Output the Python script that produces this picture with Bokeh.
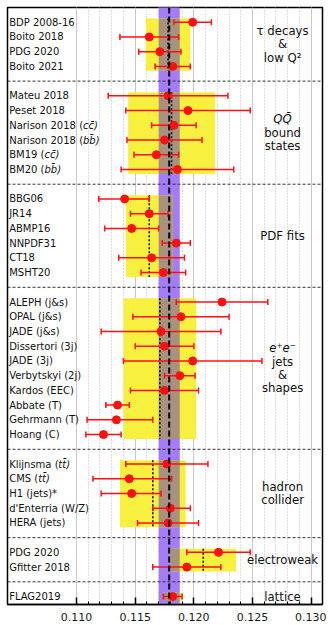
import numpy as np
from bokeh.plotting import figure
from bokeh.models import Range1d, FixedTicker, Span, NumeralTickFormatter
from bokeh.core.properties import value
from bokeh.embed import file_html
from bokeh.resources import INLINE

# ---------------- data ----------------
world_avg = 0.1179
world_err = 0.0009

tau_names = ["BDP 2008-16", "Boito 2018", "PDG 2020", "Boito 2021"]
tau_vals = [0.1199, 0.1162, 0.1171, 0.1182]
tau_lo = [0.0016, 0.0025, 0.0018, 0.0015]
tau_hi = [0.0016, 0.0025, 0.0018, 0.0015]
tau_avg, tau_err = 0.1178, 0.0019
tau_label = ["τ decays", "&", "low Q²"]

qq_names = ["Mateu 2018", "Peset 2018", "Narison 2018 (cc\u0304)",
            "Narison 2018 (bb\u0304)", "BM19 (cc\u0304)", "BM20 (bb\u0304)"]
qq_vals = [0.1178, 0.1195, 0.1183, 0.1175, 0.1168, 0.1186]
qq_lo = [0.0051, 0.0053, 0.0019, 0.0032, 0.0019, 0.0048]
qq_hi = [0.0051, 0.0053, 0.0019, 0.0032, 0.0019, 0.0048]
qq_avg, qq_err = 0.1181, 0.0037
qq_label = ["QQ\u0304", "bound", "states"]

pdf_names = ["BBG06", "JR14", "ABMP16", "NNPDF31", "CT18", "MSHT20"]
pdf_vals = [0.1141, 0.1162, 0.1147, 0.1185, 0.1164, 0.1174]
pdf_lo = [0.0022, 0.0016, 0.0023, 0.0012, 0.0028, 0.0019]
pdf_hi = [0.0021, 0.0016, 0.0023, 0.0012, 0.0028, 0.0019]
pdf_avg, pdf_err = 0.1162, 0.0020
pdf_label = ["PDF fits"]

ee_names = ["ALEPH (j&s)", "OPAL (j&s)", "JADE (j&s)", "Dissertori (3j)",
            "JADE (3j)", "Verbytskyi (2j)", "Kardos (EEC)", "Abbate (T)",
            "Gehrmann (T)", "Hoang (C)"]
ee_vals = [0.1224, 0.1189, 0.1172, 0.1175, 0.1199, 0.1188, 0.1175, 0.1135, 0.1134, 0.1123]
ee_lo = [0.0039, 0.0041, 0.0051, 0.0025, 0.0059, 0.0013, 0.0029, 0.0010, 0.0025, 0.0015]
ee_hi = [0.0039, 0.0041, 0.0051, 0.0025, 0.0059, 0.0013, 0.0029, 0.0010, 0.0031, 0.0015]
ee_avg, ee_err = 0.1171, 0.0031
ee_label = ["e⁺e⁻", "jets", "&", "shapes"]

had_names = ["Klijnsma (tt\u0304)", "CMS (tt\u0304)", "H1 (jets)*",
             "d'Enterria (W/Z)", "HERA (jets)"]
had_vals = [0.1177, 0.1145, 0.1147, 0.1180, 0.1178]
had_lo = [0.0035, 0.0031, 0.0026, 0.0015, 0.0026]
had_hi = [0.0035, 0.0036, 0.0025, 0.0017, 0.0026]
had_avg, had_err = 0.1165, 0.0028
had_label = ["hadron", "collider"]

ew_names = ["PDG 2020", "Gfitter 2018"]
ew_vals = [0.1221, 0.1194]
ew_lo = [0.0027, 0.0029]
ew_hi = [0.0027, 0.0029]
ew_avg, ew_err = 0.1208, 0.0028
ew_label = ["electroweak"]

lat_names = ["FLAG2019"]
lat_vals = [0.1182]
lat_lo = [0.0008]
lat_hi = [0.0008]
lat_avg, lat_err = 0.1182, 0.0008
lat_label = ["lattice"]

major_ticks = [0.110, 0.115, 0.120, 0.125, 0.130]
minor_ticks = [round(0.110 + 0.001 * i, 3) for i in range(21)]

groups = [
    (tau_names, tau_vals, tau_lo, tau_hi, tau_avg, tau_err, tau_label, [False, False, False]),
    (qq_names, qq_vals, qq_lo, qq_hi, qq_avg, qq_err, qq_label, [True, False, False]),
    (pdf_names, pdf_vals, pdf_lo, pdf_hi, pdf_avg, pdf_err, pdf_label, [False]),
    (ee_names, ee_vals, ee_lo, ee_hi, ee_avg, ee_err, ee_label, [True, False, False, False]),
    (had_names, had_vals, had_lo, had_hi, had_avg, had_err, had_label, [False, False]),
    (ew_names, ew_vals, ew_lo, ew_hi, ew_avg, ew_err, ew_label, [False]),
    (lat_names, lat_vals, lat_lo, lat_hi, lat_avg, lat_err, lat_label, [False]),
]

# DejaVu Sans advance widths (units of 1/2048 em) for measuring label prefixes
_W = {" ": 651, "(": 799, ")": 799, "N": 1532, "a": 1255, "r": 842, "i": 569,
      "s": 1067, "o": 1253, "n": 1298, "B": 1405, "M": 1768, "K": 1294,
      "l": 569, "j": 569, "m": 1995, "C": 1430, "S": 1300}
for d in "0123456789":
    _W[d] = 1303


def text_width(s, size):
    return sum(_W.get(ch, 1200) for ch in s) / 2048.0 * size


# ---------------- figure ----------------
Y_TOP, Y_BOT = 0.0, 40.54
p = figure(width=326, height=625, output_backend="svg", toolbar_location=None,
           x_range=Range1d(0.104119, 0.130963), y_range=Range1d(Y_BOT, Y_TOP),
           min_border_left=7, min_border_right=4, min_border_top=7, min_border_bottom=21)
p.background_fill_color = "white"
p.border_fill_color = "white"
p.outline_line_color = "black"
p.outline_line_width = 1.5
p.yaxis.visible = False
p.ygrid.visible = False

ticker = FixedTicker(ticks=major_ticks, minor_ticks=minor_ticks)
p.xaxis.ticker = ticker
p.xaxis.formatter = NumeralTickFormatter(format="0.000")
p.xaxis.major_label_text_font = "DejaVu Sans"
p.xaxis.major_label_text_font_size = "11px"
p.xaxis.major_label_text_color = "#1a1a1a"
p.xaxis.major_label_standoff = 8
p.xaxis.axis_line_color = "black"
p.xaxis.axis_line_width = 1.5
p.xaxis.major_tick_in = 7
p.xaxis.major_tick_out = 0
p.xaxis.major_tick_line_width = 1.5
p.xaxis.minor_tick_in = 3
p.xaxis.minor_tick_out = 0
p.xaxis.minor_tick_line_color = "black"

p.xgrid.ticker = ticker
p.xgrid.grid_line_color = "#c8c8c8"
p.xgrid.grid_line_width = 1
p.xgrid.minor_grid_line_color = "#bdbdbd"
p.xgrid.minor_grid_line_dash = "1 2"
p.xgrid.minor_grid_line_width = 1

PURPLE = "#a47cf7"
YELLOW = "#f7f03e"
BROWN = "#a8927f"
RED = "#ff1010"
FS = 10.0

# world average band
p.quad(left=[world_avg - world_err], right=[world_avg + world_err],
       top=[Y_TOP - 1], bottom=[Y_BOT + 1], fill_color=PURPLE, line_color=None)

row = 1
seps = []
LX = 0.10426
GX = 0.12756
for gi, (names, vals, lo, hi, avg, err, glabel, italics) in enumerate(groups):
    n = len(names)
    ys = [row + i for i in range(n)]
    top = ys[0] - 0.25
    bot = ys[-1] + 0.3
    # group box
    p.quad(left=[avg - err], right=[avg + err], top=[top], bottom=[bot],
           fill_color=YELLOW, line_color=None)
    bl = max(avg - err, world_avg - world_err)
    br = min(avg + err, world_avg + world_err)
    if bl < br:
        p.quad(left=[bl], right=[br], top=[top], bottom=[bot],
               fill_color=BROWN, line_color=None)
    p.segment(x0=[avg], y0=[top], x1=[avg], y1=[bot], line_color="black",
              line_width=1.5, line_dash="2 2")
    # measurements
    xlo = [v - l for v, l in zip(vals, lo)]
    xhi = [v + h for v, h in zip(vals, hi)]
    p.segment(x0=xlo, y0=ys, x1=xhi, y1=ys, line_color=RED, line_width=1.5)
    p.scatter(x=xlo + xhi, y=ys + ys, marker="dash", angle=np.pi / 2, size=6,
              line_color=RED, line_width=1.5)
    p.scatter(x=vals, y=ys, size=8, fill_color=RED, line_color=RED)
    # names (italic quark pairs drawn as a separate italic piece)
    for name, yv in zip(names, ys):
        if "\u0304" in name:
            k = name.index("(") + 1
            pre, rest = name[:k], name[k:]
            w1 = text_width(pre, FS)
            p.text(x=[LX], y=[yv], text=[pre], text_font=value("DejaVu Sans"),
                   text_font_size=value("10px"), text_align="left",
                   text_baseline="middle", text_color="#111111")
            p.text(x=[LX], y=[yv], text=[rest], x_offset=w1, text_font=value("DejaVu Sans"),
                   text_font_size=value("10px"), text_align="left", text_font_style="italic",
                   text_baseline="middle", text_color="#111111")
        else:
            p.text(x=[LX], y=[yv], text=[name], text_font=value("DejaVu Sans"),
                   text_font_size=value("10px"), text_align="left",
                   text_baseline="middle", text_color="#111111")
    # group label
    c = (ys[0] + ys[-1]) / 2
    m = len(glabel)
    for j, (t, it) in enumerate(zip(glabel, italics)):
        yy = c + (j - (m - 1) / 2) * 0.905
        p.text(x=[GX], y=[yy], text=[t], text_font=value("DejaVu Sans"),
               text_font_size=value("11.7px"), text_align="center",
               text_baseline="middle", text_color="#111111",
               text_font_style="italic" if it else "normal")
    row += n
    if gi < len(groups) - 1:
        seps.append(row)
        row += 1

for s in seps:
    p.add_layout(Span(location=s, dimension="width", line_color="#333333",
                      line_width=1, line_dash="3 2"))

p.add_layout(Span(location=world_avg, dimension="height", line_color="black",
                  line_width=2, line_dash="6 3"))

open("out.html", "w").write(file_html(p, INLINE))
